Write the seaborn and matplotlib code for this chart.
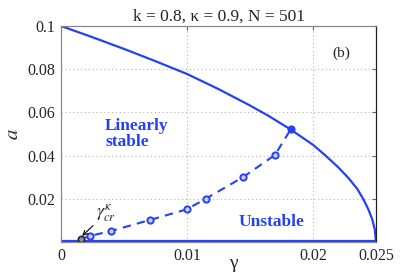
import numpy as np
import pandas as pd
import matplotlib
matplotlib.use("Agg")
import matplotlib.pyplot as plt
import seaborn as sns

# upper stability boundary (solid)
gamma_upper = [0, 0.0025, 0.005, 0.0075, 0.01, 0.0125, 0.015, 0.0165, 0.018, 0.019,
               0.02, 0.021, 0.022, 0.0228, 0.0235, 0.024, 0.0244, 0.0247, 0.0249, 0.025]
a_upper = [0.1, 0.0948, 0.0894, 0.0837, 0.0778, 0.0708, 0.0632, 0.0583, 0.0529, 0.0490,
           0.0450, 0.0400, 0.0346, 0.0297, 0.0247, 0.0198, 0.0150, 0.0105, 0.0060, 0.0]

# lower branch along the axis
gamma_lower = [0, 0.025]
a_lower = [0.0006, 0.0006]

# dashed threshold with markers
gamma_dash = [0.00156, 0.0023, 0.00397, 0.00706, 0.00997, 0.01148, 0.01447, 0.01698, 0.01825]
a_dash = [0.00125, 0.0028, 0.0051, 0.0102, 0.0151, 0.0200, 0.0301, 0.0403, 0.0523]

xticks = [0, 0.01, 0.02, 0.025]
xtick_labels = ["0", "0.01", "0.02", "0.025"]
yticks = [0.02, 0.04, 0.06, 0.08, 0.1]
ytick_labels = ["0.02", "0.04", "0.06", "0.08", "0.1"]

BLUE = "#2541f2"

sns.set_style("white")
plt.rcParams["font.family"] = ["Liberation Serif", "DejaVu Serif"]
plt.rcParams["mathtext.fontset"] = "stix"

fig = plt.figure(figsize=(4.15, 2.77), dpi=100)
ax = fig.add_axes([61 / 415, 35 / 277, 315 / 415, 216 / 277])

up = pd.DataFrame({"g": gamma_upper, "a": a_upper})
lo = pd.DataFrame({"g": gamma_lower, "a": a_lower})
da = pd.DataFrame({"g": gamma_dash, "a": a_dash})

# grid
for gx in [0.01, 0.02]:
    ax.axvline(gx, color="#b5b5b5", lw=0.8, ls=(0, (1, 2.5)), zorder=0)
for gy in [0.02, 0.04, 0.06, 0.08]:
    ax.axhline(gy, color="#b5b5b5", lw=0.8, ls=(0, (1, 2.5)), zorder=0)

sns.lineplot(data=up, x="g", y="a", ax=ax, color=BLUE, lw=1.6, sort=False, estimator=None)
sns.lineplot(data=lo, x="g", y="a", ax=ax, color=BLUE, lw=1.6, sort=False, estimator=None)
ax.plot(da["g"], da["a"], color=BLUE, lw=1.5, ls=(0, (4, 3)))
ax.plot(da["g"][1:-1], da["a"][1:-1], ls="none", marker="o", ms=4.5, mfc="#c9d0fb",
        mec=BLUE, mew=1.4)
ax.plot(da["g"][-1:], da["a"][-1:], ls="none", marker="o", ms=4.5, mfc=BLUE,
        mec=BLUE, mew=1.4)
ax.plot(da["g"][:1], da["a"][:1], ls="none", marker="o", ms=4.5, mfc="#8890b0",
        mec="#222233", mew=1.2)

ax.set_xlim(0, 0.025)
ax.set_ylim(0, 0.1)
ax.set_xticks(xticks)
ax.set_xticklabels(xtick_labels)
ax.set_yticks(yticks)
ax.set_yticklabels(ytick_labels)
ax.tick_params(axis="both", direction="in", length=3, labelsize=11.5,
               top=True, right=True, color="#666666", pad=4)
for side in ["left", "top", "bottom"]:
    ax.spines[side].set_color("#888888")
ax.spines["right"].set_color("#222222")
for s in ax.spines.values():
    s.set_linewidth(0.9)

ax.set_xlabel("\u03b3", fontsize=14)
ax.xaxis.set_label_coords(0.546, -0.062)
ax.set_ylabel(r"$a$", fontsize=15, labelpad=3)
ax.set_title("k = 0.8, \u03ba = 0.9, N = 501", fontsize=12.5, pad=4)

ax.text(0.0035, 0.05, "Linearly\nstable", color=BLUE, fontsize=12.5,
        fontweight="bold", ha="left", va="center", linespacing=1.0)
ax.text(0.01406, 0.0093, "Unstable", color=BLUE, fontsize=12.5,
        fontweight="bold", ha="left", va="center")
ax.text(0.02228, 0.0876, "(b)", fontsize=11, ha="center", va="center")
ax.annotate(r"$\gamma^{\kappa}_{cr}$", xy=(0.00168, 0.0028), xytext=(0.0028, 0.0135),
            fontsize=13, ha="left", va="center",
            arrowprops=dict(arrowstyle="->", color="black", lw=0.8,
                            shrinkA=0, shrinkB=0, mutation_scale=8))

fig.savefig("out.png", dpi=100)
